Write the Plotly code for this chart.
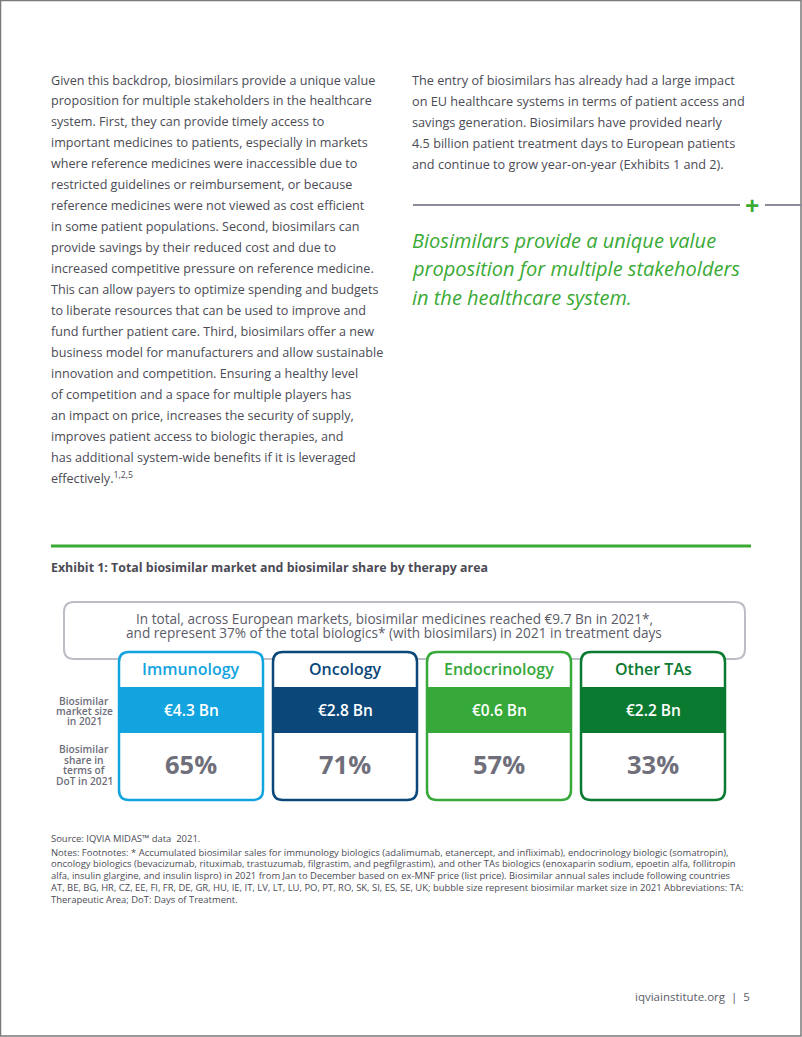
import plotly.graph_objects as go

# ---------------- data ----------------
categories = ["Immunology", "Oncology", "Endocrinology", "Other TAs"]
market_size_bn = [4.3, 2.8, 0.6, 2.2]
share_dot_pct = [65, 71, 57, 33]
card_colors = ["#12a4df", "#0b4779", "#36a93a", "#0a7a30"]

total_market_bn = 9.7
total_share_pct = 37

left_par = [
    "Given this backdrop, biosimilars provide a unique value",
    "proposition for multiple stakeholders in the healthcare",
    "system. First, they can provide timely access to",
    "important medicines to patients, especially in markets",
    "where reference medicines were inaccessible due to",
    "restricted guidelines or reimbursement, or because",
    "reference medicines were not viewed as cost efficient",
    "in some patient populations. Second, biosimilars can",
    "provide savings by their reduced cost and due to",
    "increased competitive pressure on reference medicine.",
    "This can allow payers to optimize spending and budgets",
    "to liberate resources that can be used to improve and",
    "fund further patient care. Third, biosimilars offer a new",
    "business model for manufacturers and allow sustainable",
    "innovation and competition. Ensuring a healthy level",
    "of competition and a space for multiple players has",
    "an impact on price, increases the security of supply,",
    "improves patient access to biologic therapies, and",
    "has additional system-wide benefits if it is leveraged",
    "effectively.<sup>1,2,5</sup>",
]
right_par = [
    "The entry of biosimilars has already had a large impact",
    "on EU healthcare systems in terms of patient access and",
    "savings generation. Biosimilars have provided nearly",
    "4.5 billion patient treatment days to European patients",
    "and continue to grow year-on-year (Exhibits 1 and 2).",
]
quote_lines = [
    "Biosimilars provide a unique value",
    "proposition for multiple stakeholders",
    "in the healthcare system.",
]
exhibit_title = "Exhibit 1: Total biosimilar market and biosimilar share by therapy area"
summary_lines = [
    f"In total, across European markets, biosimilar medicines reached €{total_market_bn} Bn in 2021*,",
    f"and represent {total_share_pct}% of the total biologics* (with biosimilars) in 2021 in treatment days",
]
row_label_1 = ["Biosimilar", "market size", "in 2021"]
row_label_2 = ["Biosimilar", "share in", "terms of", "DoT in 2021"]
notes_lines = [
    "Source: IQVIA MIDAS™ data  2021.",
    "Notes: Footnotes: * Accumulated biosimilar sales for immunology biologics (adalimumab, etanercept, and infliximab), endocrinology biologic (somatropin),",
    "oncology biologics (bevacizumab, rituximab, trastuzumab, filgrastim, and pegfilgrastim), and other TAs biologics (enoxaparin sodium, epoetin alfa, follitropin",
    "alfa, insulin glargine, and insulin lispro) in 2021 from Jan to December based on ex-MNF price (list price). Biosimilar annual sales include following countries",
    "AT, BE, BG, HR, CZ, EE, FI, FR, DE, GR, HU, IE, IT, LV, LT, LU, PO, PT, RO, SK, SI, ES, SE, UK; bubble size represent biosimilar market size in 2021 Abbreviations: TA:",
    "Therapeutic Area; DoT: Days of Treatment.",
]
footer = "iqviainstitute.org  |  5"

# ---------------- styles ----------------
W, H = 802, 1037
TEXT = "#4b4b55"
GRAY = "#6e6e7a"
GREEN = "#3aaa35"
FONT = "Open Sans"

fig = go.Figure()
shapes = []
ann = []


def rrect(x0, y0, x1, y1, r):
    return (f"M {x0+r},{y0} L {x1-r},{y0} Q {x1},{y0} {x1},{y0+r} "
            f"L {x1},{y1-r} Q {x1},{y1} {x1-r},{y1} L {x0+r},{y1} "
            f"Q {x0},{y1} {x0},{y1-r} L {x0},{y0+r} Q {x0},{y0} {x0+r},{y0} Z")


def text(x, y, s, size, color=TEXT, anchor="left", weight=400, style="normal", family=FONT):
    ann.append(dict(x=x, y=y, xref="x", yref="y", text=s, showarrow=False,
                    xanchor=anchor, yanchor="middle",
                    font=dict(family=family, size=size, color=color, weight=weight, style=style)))


# page border
shapes.append(dict(type="rect", x0=0.5, y0=0.5, x1=801, y1=1036, xref="x", yref="y",
                   line=dict(color="#7a7a7a", width=1.5), fillcolor="rgba(0,0,0,0)", layer="below"))

# left paragraph
for i, s in enumerate(left_par):
    text(49, 80 + i * 20.95, s, 12.6)
# right paragraph
for i, s in enumerate(right_par):
    text(410, 80 + i * 21, s, 12.7)

# divider with plus
shapes.append(dict(type="line", x0=413, x1=740, y0=205, y1=205, xref="x", yref="y",
                   line=dict(color="#8c8c98", width=2)))
shapes.append(dict(type="line", x0=765, x1=802, y0=205, y1=205, xref="x", yref="y",
                   line=dict(color="#8c8c98", width=2)))
text(752, 205, "<b>+</b>", 25, color=GREEN, anchor="center")

# quote
for i, s in enumerate(quote_lines):
    text(410, 240 + i * 28.7, s, 20, color=GREEN, style="italic", weight=500)

# exhibit rule + title
shapes.append(dict(type="line", x0=51, x1=751, y0=546, y1=546, xref="x", yref="y",
                   line=dict(color=GREEN, width=3)))
text(49, 567, exhibit_title, 12.4, color=TEXT, weight=700)

# summary box
shapes.append(dict(type="path", path=rrect(64, 602, 745, 659, 10), xref="x", yref="y",
                   line=dict(color="#bdbdc6", width=2), fillcolor="white"))
for i, s in enumerate(summary_lines):
    text(394, 618 + i * 14.5, s, 13.6, color="#5c5c68", anchor="center", weight=500)

# row labels
for i, s in enumerate(row_label_1):
    text(84, 701 + i * 10.2, s, 10.2, color=GRAY, anchor="center", weight=600)
for i, s in enumerate(row_label_2):
    text(84, 749 + i * 10.6, s, 10.2, color=GRAY, anchor="center", weight=600)

# cards
for i, cat in enumerate(categories):
    x0 = 119 + i * 154
    x1 = x0 + 144
    xc = (x0 + x1) / 2
    col = card_colors[i]
    shapes.append(dict(type="path", path=rrect(x0, 652, x1, 800, 10), xref="x", yref="y",
                       line=dict(width=0), fillcolor="white"))
    shapes.append(dict(type="rect", x0=x0, x1=x1, y0=687, y1=733, xref="x", yref="y",
                       line=dict(width=0), fillcolor=col))
    shapes.append(dict(type="path", path=rrect(x0, 652, x1, 800, 10), xref="x", yref="y",
                       line=dict(color=col, width=2.5), fillcolor="rgba(0,0,0,0)"))
    text(xc, 669, cat, 16, color=col, anchor="center", weight=600)
    text(xc, 710, f"€{market_size_bn[i]} Bn", 15.5, color="white", anchor="center", weight=600)
    text(xc, 764, f"{share_dot_pct[i]}%", 25.5, color="#6f6f7b", anchor="center", weight=700)

# notes
notes_y = [838, 852, 863.5, 875, 887, 899]
for y, s in zip(notes_y, notes_lines):
    text(49, y, s, 9.45, color=TEXT)

# footer
text(752, 996, footer, 11.5, color="#5c5c68", anchor="right")

fig.update_layout(
    width=W, height=H, margin=dict(l=0, r=0, t=0, b=0),
    paper_bgcolor="white", plot_bgcolor="white",
    xaxis=dict(range=[0, W], visible=False, fixedrange=True),
    yaxis=dict(range=[H, 0], visible=False, fixedrange=True),
    shapes=shapes, annotations=ann, showlegend=False,
)
fig.write_html(
    "out.html",
    config={"displayModeBar": False},
    post_script="document.body.style.margin='0';document.body.style.overflow='hidden';",
)
